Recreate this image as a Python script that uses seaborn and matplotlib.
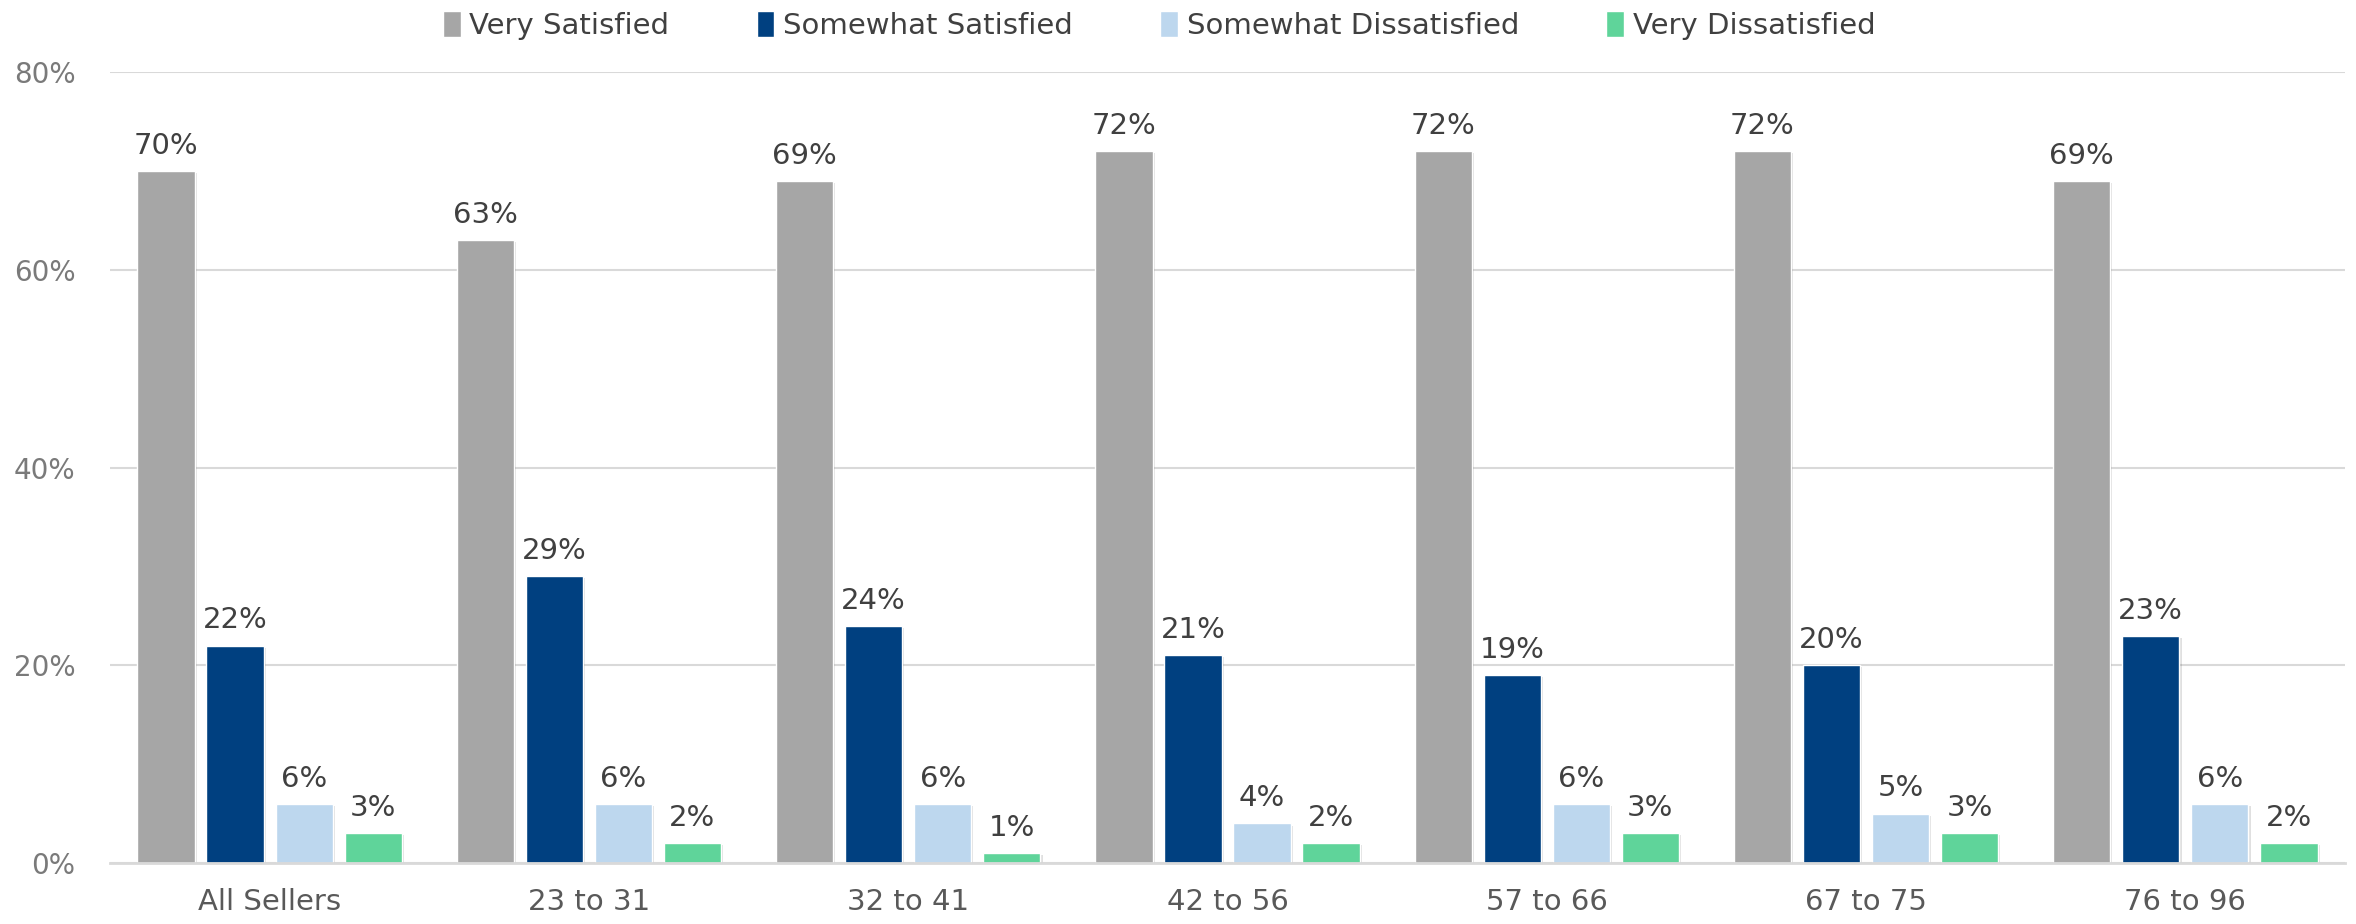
import pandas as pd
import matplotlib.pyplot as plt
import matplotlib.patheffects as pe
import seaborn as sns
from matplotlib.patches import Patch

# Data
groups = ['All Sellers', '23 to 31', '32 to 41', '42 to 56', '57 to 66', '67 to 75', '76 to 96']
responses = ['Very Satisfied', 'Somewhat Satisfied', 'Somewhat Dissatisfied', 'Very Dissatisfied']
very_satisfied = [70, 63, 69, 72, 72, 72, 69]
somewhat_satisfied = [22, 29, 24, 21, 19, 20, 23]
somewhat_dissatisfied = [6, 6, 6, 4, 6, 5, 6]
very_dissatisfied = [3, 2, 1, 2, 3, 3, 2]

colors = ['#a6a6a6', '#004080', '#bdd7ee', '#5fd49a']

rows = []
for resp, vals in zip(responses, [very_satisfied, somewhat_satisfied, somewhat_dissatisfied, very_dissatisfied]):
    for g, v in zip(groups, vals):
        rows.append({'Group': g, 'Response': resp, 'Value': v})
df = pd.DataFrame(rows)

sns.set_style('white')
plt.rcParams['font.family'] = ['DejaVu Sans']

fig = plt.figure(figsize=(23.56, 9.24), dpi=100)
ax = fig.add_axes([0.0467, 0.066, 0.9486, 0.856])

sns.barplot(data=df, x='Group', y='Value', hue='Response', hue_order=responses,
            palette=colors, width=0.865, gap=0.17, saturation=1, ax=ax, legend=False)

# soft drop shadow like the original
for p in ax.patches:
    p.set_path_effects([pe.SimplePatchShadow(offset=(1.5, -1.5), shadow_rgbFace='#000000', alpha=0.12),
                        pe.Normal()])

for cont in ax.containers:
    ax.bar_label(cont, labels=[f'{int(round(b.get_height()))}%' for b in cont],
                 padding=8, fontsize=21, color='#404040')

ax.set_ylim(0, 80)
ax.set_xlim(-0.5, len(groups) - 0.5)
ax.set_yticks([0, 20, 40, 60, 80])
ax.set_yticklabels([f'{t}%' for t in [0, 20, 40, 60, 80]])
ax.yaxis.grid(True, color='#d9d9d9', linewidth=1.5)
ax.set_axisbelow(True)
ax.tick_params(axis='y', labelsize=20, labelcolor='#7a7a7a', length=0, pad=25)
ax.tick_params(axis='x', labelsize=21, labelcolor='#595959', length=0, pad=18)
ax.set_xlabel('')
ax.set_ylabel('')
for s in ['top', 'right', 'left']:
    ax.spines[s].set_visible(False)
ax.spines['bottom'].set_color('#d9d9d9')
ax.spines['bottom'].set_linewidth(2)

handles = [Patch(facecolor=c, label=r) for c, r in zip(colors, responses)]
fig.legend(handles=handles, loc='upper center', bbox_to_anchor=(0.492, 1.017), ncol=4,
           frameon=False, fontsize=21, handlelength=0.6, handleheight=1.0,
           handletextpad=0.3, columnspacing=3.0, labelcolor='#404040')

fig.savefig('out.png', dpi=100)
